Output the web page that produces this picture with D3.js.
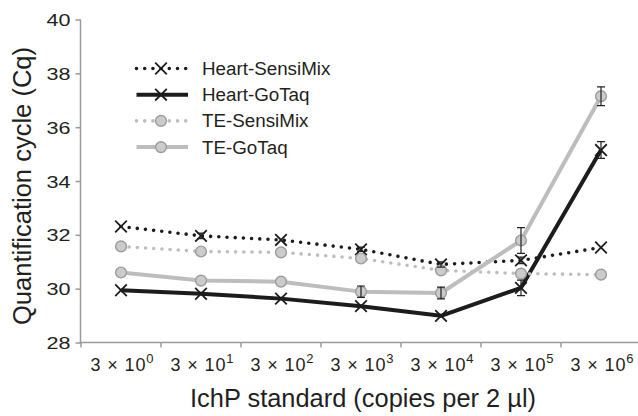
<!DOCTYPE html>
<html>
<head>
<meta charset="utf-8">
<script src="https://cdn.jsdelivr.net/npm/d3@7"></script>
<style>
  html, body { margin: 0; padding: 0; background: #fff; }
  svg { display: block; font-family: "Liberation Sans", Arial, Helvetica, sans-serif; }
</style>
</head>
<body>
<svg id="chart" width="638" height="416"></svg>
<script>
// ---- Data ----
const categories = ["0", "1", "2", "3", "4", "5", "6"]; // exponents of 3 × 10^n copies
const seriesNames = ["Heart-SensiMix", "Heart-GoTaq", "TE-SensiMix", "TE-GoTaq"];
const heartSensiMix = [32.31, 31.96, 31.81, 31.46, 30.90, 31.05, 31.53];
const heartGoTaq    = [29.94, 29.81, 29.63, 29.35, 28.99, 30.03, 35.15];
const teSensiMix    = [31.57, 31.38, 31.35, 31.12, 30.68, 30.56, 30.52];
const teGoTaq       = [30.60, 30.30, 30.26, 29.89, 29.84, 31.79, 37.15];
const heartSensiMixErr = [0.05, 0.10, 0.06, 0.08, 0.10, 0.12, 0.05];
const heartGoTaqErr    = [0.05, 0.06, 0.06, 0.05, 0.05, 0.29, 0.31];
const teSensiMixErr    = [0.04, 0.05, 0.05, 0.05, 0.05, 0.06, 0.04];
const teGoTaqErr       = [0.05, 0.05, 0.05, 0.21, 0.22, 0.48, 0.35];
const yTicks = [28, 30, 32, 34, 36, 38, 40];
const yTitle = "Quantification cycle (Cq)";
const xTitle = "IchP standard (copies per 2 µl)";

(function () {
// ---- Setup ----
const svg = d3.select("#chart");
const W = 638, H = 416;
const mLeft = 81, mRight = 641, mTop = 19.5, mBottom = 342.5;

const x = d3.scaleBand().domain(categories).range([mLeft, mRight]);
const y = d3.scaleLinear().domain([28, 40]).range([mBottom, mTop]);
const cx = d => x(d) + x.bandwidth() / 2;

const axisColor = "#9a9a9a";
const textColor = "#231f20";
const black = "#1c1c1c";
const gray = "#bdbdbd";

// ---- Axes ----
const yAxis = svg.append("g")
  .attr("transform", `translate(${mLeft - 0.5},0)`)
  .call(d3.axisLeft(y).tickValues(yTicks).tickSize(5).tickPadding(5).tickFormat(d3.format("d")));
yAxis.select(".domain").attr("stroke", axisColor).attr("stroke-width", 1.5)
  .attr("d", `M0,${mTop}V${mBottom + 1}`);
yAxis.selectAll(".tick line").attr("stroke", axisColor).attr("stroke-width", 1.5);
yAxis.selectAll(".tick text")
  .attr("fill", textColor).attr("font-size", 17)
  .attr("textLength", 24).attr("lengthAdjust", "spacingAndGlyphs")
  .attr("dy", "0.36em");

// x axis line
svg.append("line")
  .attr("x1", mLeft - 1).attr("x2", W).attr("y1", mBottom).attr("y2", mBottom)
  .attr("stroke", axisColor).attr("stroke-width", 1.5);
// x ticks at band boundaries
svg.append("g").selectAll("line")
  .data(categories)
  .join("line")
  .attr("x1", d => x(d)).attr("x2", d => x(d))
  .attr("y1", mBottom).attr("y2", mBottom + 5)
  .attr("stroke", axisColor).attr("stroke-width", 1.5);

// x tick labels
const xl = svg.append("g").selectAll("text")
  .data(categories)
  .join("text")
  .attr("x", d => cx(d) + 1)
  .attr("y", mBottom + 28.5)
  .attr("text-anchor", "middle")
  .attr("fill", textColor)
  .attr("font-size", 18)
  .attr("textLength", 63).attr("lengthAdjust", "spacing");
xl.append("tspan").text("3 × 10");
xl.append("tspan").text(d => d).attr("font-size", 13).attr("dy", -8);

// titles
svg.append("text")
  .attr("x", 363).attr("y", 407)
  .attr("text-anchor", "middle")
  .attr("fill", textColor).attr("font-size", 25)
  .attr("textLength", 346).attr("lengthAdjust", "spacingAndGlyphs")
  .text(xTitle);
svg.append("text")
  .attr("transform", "translate(31,186) rotate(-90)")
  .attr("text-anchor", "middle")
  .attr("fill", textColor).attr("font-size", 25)
  .attr("textLength", 278).attr("lengthAdjust", "spacingAndGlyphs")
  .text(yTitle);

// ---- Series ----
const series = [
  { name: seriesNames[0], values: heartSensiMix, err: heartSensiMixErr, color: black, dotted: true, marker: "x" },
  { name: seriesNames[1], values: heartGoTaq, err: heartGoTaqErr, color: black, dotted: false, marker: "x" },
  { name: seriesNames[2], values: teSensiMix, err: teSensiMixErr, color: gray, dotted: true, marker: "o" },
  { name: seriesNames[3], values: teGoTaq, err: teGoTaqErr, color: gray, dotted: false, marker: "o" }
];

const line = d3.line().x((d, i) => cx(categories[i])).y(d => y(d));

function styleLine(sel, s) {
  sel.attr("fill", "none").attr("stroke", s.color);
  if (s.dotted) {
    sel.attr("stroke-width", 3.6).attr("stroke-dasharray", "0 8.2").attr("stroke-linecap", "round");
  } else {
    sel.attr("stroke-width", 4).attr("stroke-linejoin", "round");
  }
}

function drawMarker(g, s, px, py) {
  if (s.marker === "x") {
    const r = 5.8;
    g.append("path")
      .attr("d", `M${px - r},${py - r}L${px + r},${py + r}M${px - r},${py + r}L${px + r},${py - r}`)
      .attr("stroke", black).attr("stroke-width", 1.8).attr("fill", "none");
  } else {
    g.append("circle").attr("cx", px).attr("cy", py).attr("r", 5.4)
      .attr("fill", "#cbcbcb").attr("stroke", "#9c9c9c").attr("stroke-width", 1.4);
  }
}

series.forEach(s => {
  styleLine(svg.append("path").datum(s.values).attr("d", line), s);
});
series.forEach(s => {
  const g = svg.append("g");
  s.values.forEach((v, i) => drawMarker(g, s, cx(categories[i]), y(v)));
});
// error bars
series.forEach(s => {
  const g = svg.append("g").attr("stroke", "#222").attr("stroke-width", 1.2).attr("fill", "none");
  s.values.forEach((v, i) => {
    const px = cx(categories[i]);
    const y1 = y(v + s.err[i]), y2 = y(v - s.err[i]);
    if (y2 - y1 < 4) return;
    g.append("path").attr("d", `M${px},${y1}V${y2}M${px - 4},${y1}H${px + 4}M${px - 4},${y2}H${px + 4}`);
  });
});

// ---- Legend ----
const legend = svg.append("g");
const lx1 = 135, lx2 = 188, ly0 = 68.5, lstep = 26.2;
series.forEach((s, i) => {
  const ly = ly0 + i * lstep;
  const g = legend.append("g");
  styleLine(g.append("path").attr("d", `M${lx1 + 1.5},${ly}H${lx2}`), s);
  drawMarker(g, s, (lx1 + lx2) / 2 - 0.5, ly);
  g.append("text")
    .attr("x", 202).attr("y", ly).attr("dy", "0.35em")
    .attr("fill", textColor).attr("font-size", 18.8)
    .text(s.name);
});
})();
</script>
</body>
</html>
